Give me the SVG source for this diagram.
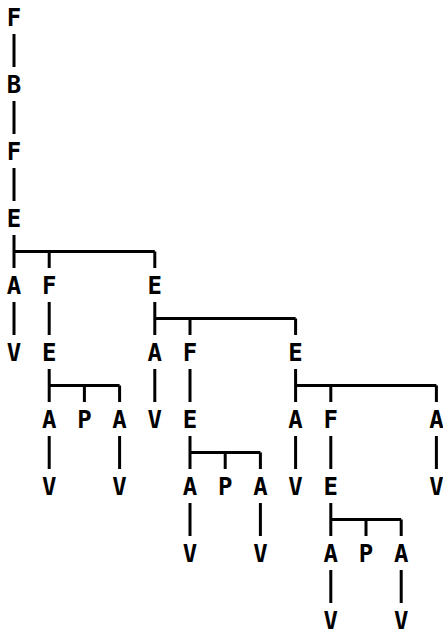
<svg xmlns="http://www.w3.org/2000/svg" width="443" height="631" viewBox="0 0 443 631">
<style>
.n text{font-family:"DejaVu Sans Mono","Liberation Mono",monospace;font-weight:bold;font-size:24px;fill:#000;text-anchor:middle}
.c path{fill:none;stroke:#000;stroke-width:3;stroke-linecap:butt}
</style>
<rect width="443" height="631" fill="#fff"/>
<g id="connectors" class="c">
<path d="M14,34V67M14,101V134M14,168V201"/>
<path d="M14,235V268M14,251.5H154.8M49.2,251.5V268M154.8,251.5V268"/>
<path d="M14,302V335M49.2,302V335"/>
<path d="M154.8,302V335M154.8,318.5H295.6M190,318.5V335M295.6,318.5V335"/>
<path d="M49.2,369V402M49.2,385.5H119.6M84.4,385.5V402M119.6,385.5V402"/>
<path d="M154.8,369V402M190,369V402"/>
<path d="M295.6,369V402M295.6,385.5H436.4M330.8,385.5V402M436.4,385.5V402"/>
<path d="M49.2,436V469M119.6,436V469M295.6,436V469M330.8,436V469M436.4,436V469"/>
<path d="M190,436V469M190,452.5H260.4M225.2,452.5V469M260.4,452.5V469"/>
<path d="M190,503V536M260.4,503V536"/>
<path d="M330.8,503V536M330.8,519.5H401.2M366,519.5V536M401.2,519.5V536"/>
<path d="M330.8,570V603M401.2,570V603"/>
</g>
<g class="n">
<g id="n1"><text x="14" y="26">F</text></g>
<g id="n2"><text x="14" y="93">B</text></g>
<g id="n3"><text x="14" y="160">F</text></g>
<g id="n4"><text x="14" y="227">E</text></g>
<g id="n5"><text x="14" y="294">A</text></g>
<g id="n6"><text x="49.2" y="294">F</text></g>
<g id="n7"><text x="154.8" y="294">E</text></g>
<g id="n8"><text x="14" y="361">V</text></g>
<g id="n9"><text x="49.2" y="361">E</text></g>
<g id="n10"><text x="154.8" y="361">A</text></g>
<g id="n11"><text x="190" y="361">F</text></g>
<g id="n12"><text x="295.6" y="361">E</text></g>
<g id="n13"><text x="49.2" y="428">A</text></g>
<g id="n14"><text x="84.4" y="428">P</text></g>
<g id="n15"><text x="119.6" y="428">A</text></g>
<g id="n16"><text x="154.8" y="428">V</text></g>
<g id="n17"><text x="190" y="428">E</text></g>
<g id="n18"><text x="295.6" y="428">A</text></g>
<g id="n19"><text x="330.8" y="428">F</text></g>
<g id="n20"><text x="436.4" y="428">A</text></g>
<g id="n21"><text x="49.2" y="495">V</text></g>
<g id="n22"><text x="119.6" y="495">V</text></g>
<g id="n23"><text x="190" y="495">A</text></g>
<g id="n24"><text x="225.2" y="495">P</text></g>
<g id="n25"><text x="260.4" y="495">A</text></g>
<g id="n26"><text x="295.6" y="495">V</text></g>
<g id="n27"><text x="330.8" y="495">E</text></g>
<g id="n28"><text x="436.4" y="495">V</text></g>
<g id="n29"><text x="190" y="562">V</text></g>
<g id="n30"><text x="260.4" y="562">V</text></g>
<g id="n31"><text x="330.8" y="562">A</text></g>
<g id="n32"><text x="366" y="562">P</text></g>
<g id="n33"><text x="401.2" y="562">A</text></g>
<g id="n34"><text x="330.8" y="629">V</text></g>
<g id="n35"><text x="401.2" y="629">V</text></g>
</g>
</svg>
